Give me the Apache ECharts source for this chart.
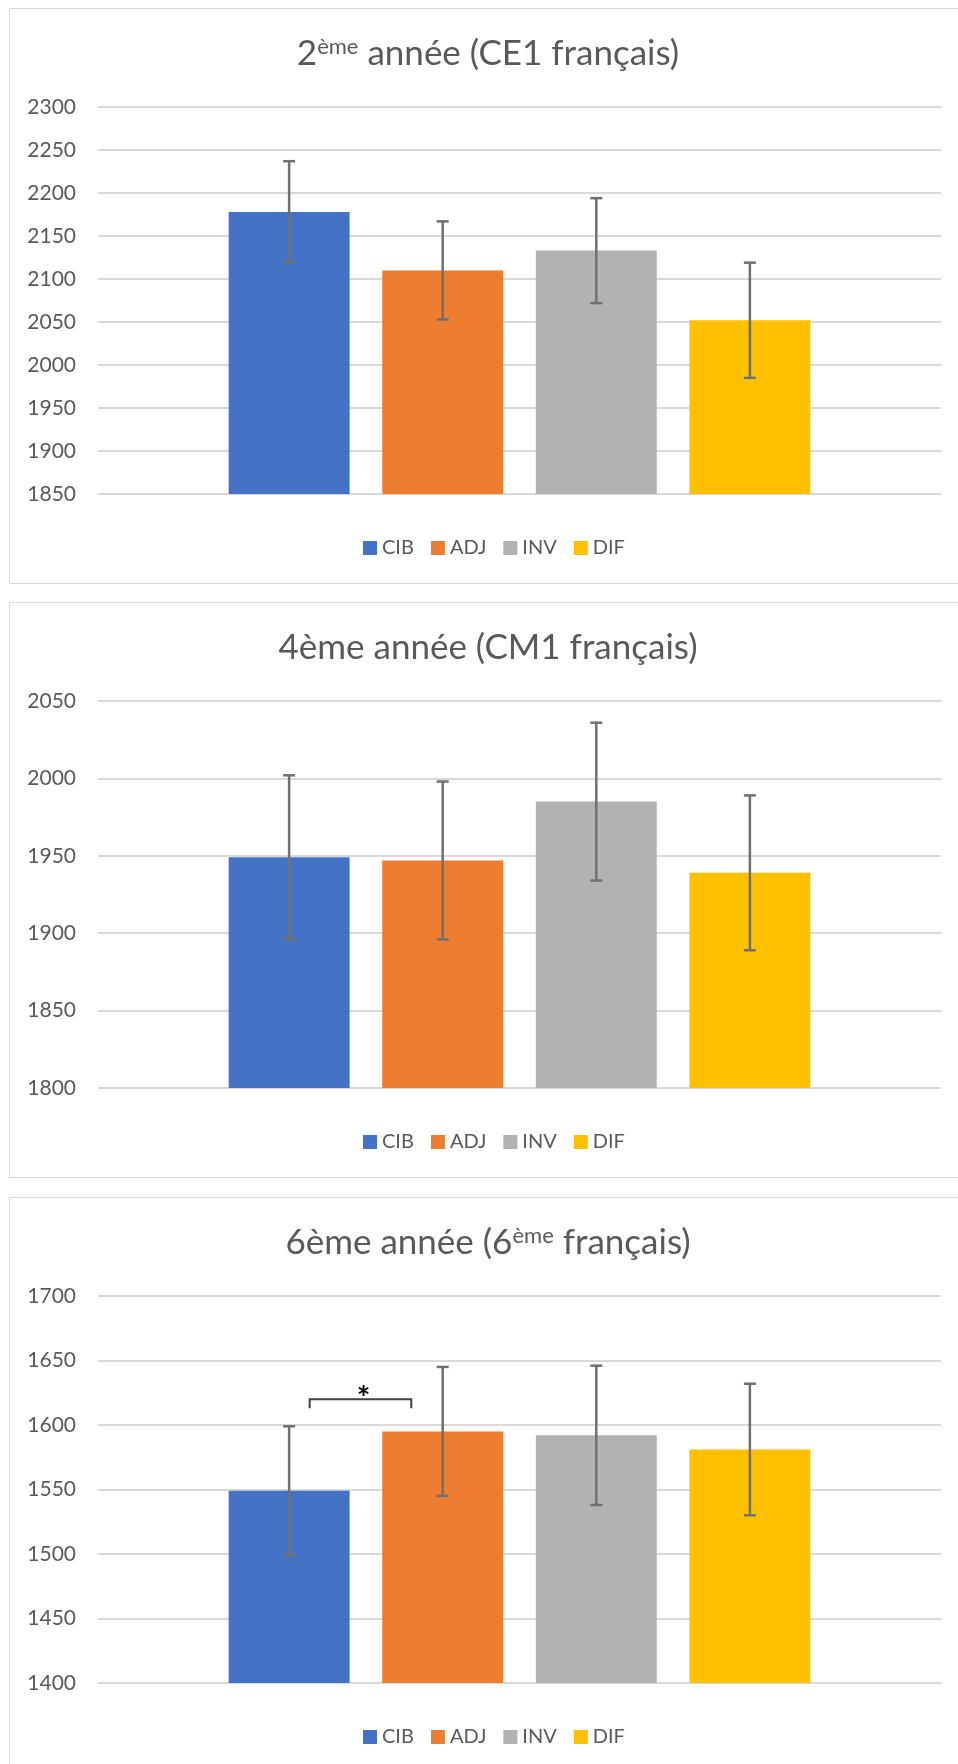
<!DOCTYPE html>
<html>
<head>
<meta charset="utf-8">
<script src="https://cdn.jsdelivr.net/npm/echarts@6/dist/echarts.min.js"></script>
<style>
  html, body { margin: 0; padding: 0; background: #fff; }
  body { width: 958px; height: 1764px; overflow: hidden; position: relative; }
  .panel { position: absolute; left: 9px; width: 958px; height: 576px; border: 1px solid #d9d9d9; box-sizing: border-box; }
</style>
</head>
<body>
<div id="c1" class="panel" style="top:8px"></div>
<div id="c2" class="panel" style="top:602px"></div>
<div id="c3" class="panel" style="top:1197px"></div>
<script>
const seriesNames = ['CIB', 'ADJ', 'INV', 'DIF'];
const colors = ['#4472C4', '#ED7D31', '#B2B2B2', '#FFC000'];
const categories = [''];

// 2ème année
const title2 = '2{sup|ème} année (CE1 français)';
const axis2 = [1850, 2300, 50];
const means2 = [2178, 2110, 2133, 2052];
const errs2 = [59, 57, 61, 67];

// 4ème année
const title4 = '4ème année (CM1 français)';
const axis4 = [1800, 2050, 50];
const means4 = [1949, 1947, 1985, 1939];
const errs4 = [53, 51, 51, 50];

// 6ème année
const title6 = '6ème année (6{sup|ème} français)';
const axis6 = [1400, 1700, 50];
const means6 = [1549, 1595, 1592, 1581];
const errs6 = [50, 50, 54, 51];
// significance: [bar a, bar b, value of bracket]
const sig6 = [[0, 1, 1620]];

const font = 'Lato';
const catGap = 0.31;
const barGap = 0.27;

// x centre of bar i inside the single category
function barX(api, i) {
  const cx = api.coord([0, 0])[0];
  const band = api.size([1, 0])[0];
  const total = band * (1 - catGap);
  const w = total / (seriesNames.length + (seriesNames.length - 1) * barGap);
  return { x: cx - total / 2 + w / 2 + i * w * (1 + barGap), w: w };
}

function makeChart(id, title, axis, means, errs, sig) {
  const chart = echarts.init(document.getElementById(id));
  const series = seriesNames.map((name, i) => ({
    name: name,
    type: 'bar',
    barCategoryGap: catGap * 100 + '%',
    barGap: barGap * 100 + '%',
    itemStyle: { color: colors[i] },
    data: [means[i]],
    z: 2
  }));

  series.push({
    type: 'custom',
    z: 5,
    encode: { x: 0, y: [1, 2] },
    data: means.map((m, i) => [0, m - errs[i], m + errs[i], i]),
    renderItem(params, api) {
      const b = barX(api, api.value(3));
      const lo = api.coord([0, api.value(1)])[1];
      const hi = api.coord([0, api.value(2)])[1];
      const style = { stroke: '#707070', lineWidth: 2.5 };
      return {
        type: 'group',
        children: [
          { type: 'line', shape: { x1: b.x, y1: lo, x2: b.x, y2: hi }, style },
          { type: 'line', shape: { x1: b.x - 6, y1: lo, x2: b.x + 6, y2: lo }, style },
          { type: 'line', shape: { x1: b.x - 6, y1: hi, x2: b.x + 6, y2: hi }, style }
        ]
      };
    }
  });

  if (sig) {
    series.push({
      type: 'custom',
      z: 6,
      encode: { x: 0, y: 3 },
      data: sig.map(s => [0, s[0], s[1], s[2]]),
      renderItem(params, api) {
        const a = barX(api, api.value(1));
        const b = barX(api, api.value(2));
        const y = api.coord([0, api.value(3)])[1];
        const x1 = a.x + a.w * 0.17;
        const x2 = b.x - b.w * 0.26;
        return {
          type: 'group',
          children: [
            {
              type: 'polyline',
              shape: { points: [[x1, y + 9], [x1, y], [x2, y], [x2, y + 9]] },
              style: { stroke: '#404040', lineWidth: 2, fill: null }
            },
            {
              type: 'text',
              style: {
                x: (x1 + x2) / 2 + 3, y: y + 16, text: '*',
                fill: '#000', font: 'bold 32px ' + font,
                textAlign: 'center', textVerticalAlign: 'bottom'
              }
            }
          ]
        };
      }
    });
  }

  chart.setOption({
    animation: false,
    textStyle: { fontFamily: font },
    title: {
      text: title,
      left: 'center',
      top: 22,
      textStyle: {
        fontFamily: font, fontSize: 35, fontWeight: 'normal', color: '#595959',
        rich: {
          sup: { fontFamily: font, fontSize: 22, color: '#595959', verticalAlign: 'top' }
        }
      }
    },
    legend: {
      data: seriesNames,
      top: 524,
      left: 348,
      icon: 'rect',
      itemWidth: 14,
      itemHeight: 14,
      itemGap: 17,
      textStyle: { fontFamily: font, fontSize: 20, color: '#595959' }
    },
    grid: { left: 88, right: 25, top: 98, bottom: 89 },
    xAxis: {
      type: 'category',
      data: categories,
      axisLine: { show: false },
      axisTick: { show: false },
      axisLabel: { show: false },
      splitLine: { show: false }
    },
    yAxis: {
      type: 'value',
      min: axis[0],
      max: axis[1],
      interval: axis[2],
      axisLine: { show: false },
      axisTick: { show: false },
      splitLine: { lineStyle: { color: '#d9d9d9', width: 2 } },
      axisLabel: {
        color: '#595959', fontSize: 21, fontFamily: font, margin: 22,
        formatter: v => String(v)
      }
    },
    series: series
  });
  return chart;
}

makeChart('c1', title2, axis2, means2, errs2);
makeChart('c2', title4, axis4, means4, errs4);
makeChart('c3', title6, axis6, means6, errs6, sig6);
</script>
</body>
</html>
